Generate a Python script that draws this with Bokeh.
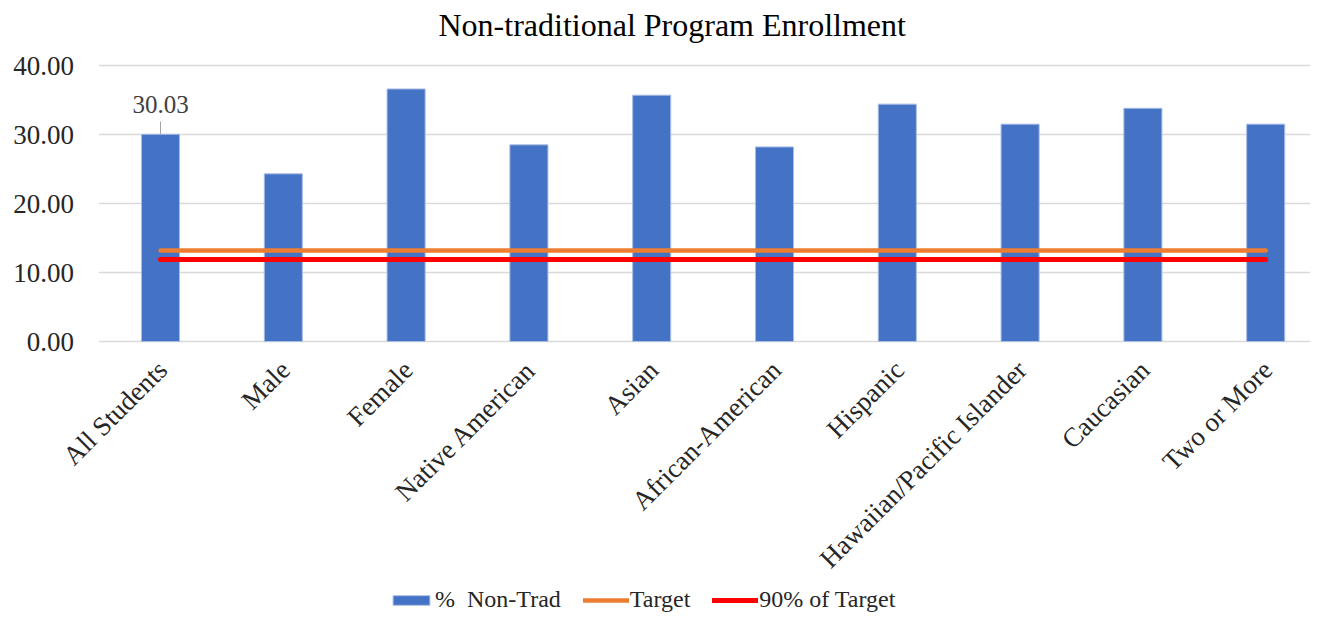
from bokeh.plotting import figure
from bokeh.models import Range1d, Legend, LegendItem, ColumnDataSource
from bokeh.embed import file_html
from bokeh.resources import INLINE

categories = ["All Students", "Male", "Female", "Native American", "Asian",
              "African-American", "Hispanic", "Hawaiian/Pacific Islander",
              "Caucasian", "Two or More"]
pct_non_trad = [30.03, 24.3, 36.6, 28.5, 35.7, 28.2, 34.4, 31.5, 33.8, 31.5]
target_value = 13.20
target_90_value = 11.88
y_ticks = [0, 10, 20, 30, 40]
y_tick_labels = ["0.00", "10.00", "20.00", "30.00", "40.00"]

FONT = "Liberation Serif"
W, H = 1310, 617
TOP = 45                       # frame top (px)
ZERO_PX = 341                  # px of the zero line
PX_PER_CAT = 122.8             # horizontal size of one category (px)
FIRST_CENTER = 160             # px of first category centre
PX_PER_UNIT = 6.9              # px per y unit

x_left = -FIRST_CENTER / PX_PER_CAT
x_right = x_left + W / PX_PER_CAT
y_top = (ZERO_PX - TOP) / PX_PER_UNIT
y_bottom = -(H - ZERO_PX) / PX_PER_UNIT

x_idx = list(range(len(categories)))

# The frame covers the whole width and reaches the bottom of the figure, so the
# rotated category labels, the value axis labels and the legend are drawn inside it.
p = figure(x_range=Range1d(x_left, x_right), y_range=Range1d(y_bottom, y_top),
           width=W, height=H, output_backend="svg", toolbar_location=None,
           x_axis_location=None, y_axis_location=None,
           min_border_left=0, min_border_right=0, min_border_top=TOP, min_border_bottom=0)

p.title.text = "Non-traditional  Program Enrollment"
p.title.text_font = FONT
p.title.text_font_size = "32px"
p.title.text_font_style = "normal"
p.title.text_color = "#000000"
p.title.align = "left"
p.title.offset = 438
p.title.standoff = 5

p.xgrid.grid_line_color = None
p.ygrid.grid_line_color = None
p.outline_line_color = None

# value gridlines and labels
grid_start = x_idx[0] - 0.5
p.segment(x0=[grid_start] * len(y_ticks), y0=y_ticks, x1=[x_right] * len(y_ticks), y1=y_ticks,
          line_color="#D9D9D9", line_width=1.5)
p.text(x=[grid_start] * len(y_ticks), y=y_ticks, text=y_tick_labels,
       text_align="right", text_baseline="middle", x_offset=-25,
       text_font=FONT, text_font_size="27px", text_color="#262626")

src = ColumnDataSource(dict(x=x_idx, name=categories, y=pct_non_trad, zero=[0] * len(categories)))
bars = p.vbar(x="x", top="y", width=0.31, source=src, fill_color="#4472C4",
              line_color="#A9BDE6", line_width=1)

tline = p.line(x_idx, [target_value] * len(x_idx), line_color="#ED7D31",
               line_width=4.5, line_cap="round")
rline = p.line(x_idx, [target_90_value] * len(x_idx), line_color="#FF0000",
               line_width=5, line_cap="round")

# data label for the first bar
p.segment(x0=[x_idx[0]], y0=[pct_non_trad[0]], x1=[x_idx[0]], y1=[pct_non_trad[0] + 1.85],
          line_color="#A6A6A6", line_width=1)
p.text(x=[x_idx[0]], y=[pct_non_trad[0]], text=[f"{pct_non_trad[0]:.2f}"],
       text_align="center", text_baseline="bottom", y_offset=-21,
       text_font=FONT, text_font_size="25px", text_color="#404040")

# rotated category labels
p.text(x="x", y="zero", text="name", source=src, angle=0.7854,
       text_align="right", text_baseline="middle", x_offset=2, y_offset=24,
       text_font=FONT, text_font_size="27px", text_color="#262626")

legend = Legend(items=[
    LegendItem(label="%  Non-Trad", renderers=[bars]),
    LegendItem(label="Target", renderers=[tline]),
    LegendItem(label="90% of Target", renderers=[rline]),
], orientation="horizontal", location=(388, 4),
    label_text_font=FONT, label_text_font_size="24px", label_text_color="#262626",
    glyph_width=46, glyph_height=12, label_standoff=1, spacing=22,
    border_line_color=None, background_fill_alpha=0, margin=0, padding=2)
p.add_layout(legend, "center")

open("out.html", "w").write(file_html(p, INLINE))
